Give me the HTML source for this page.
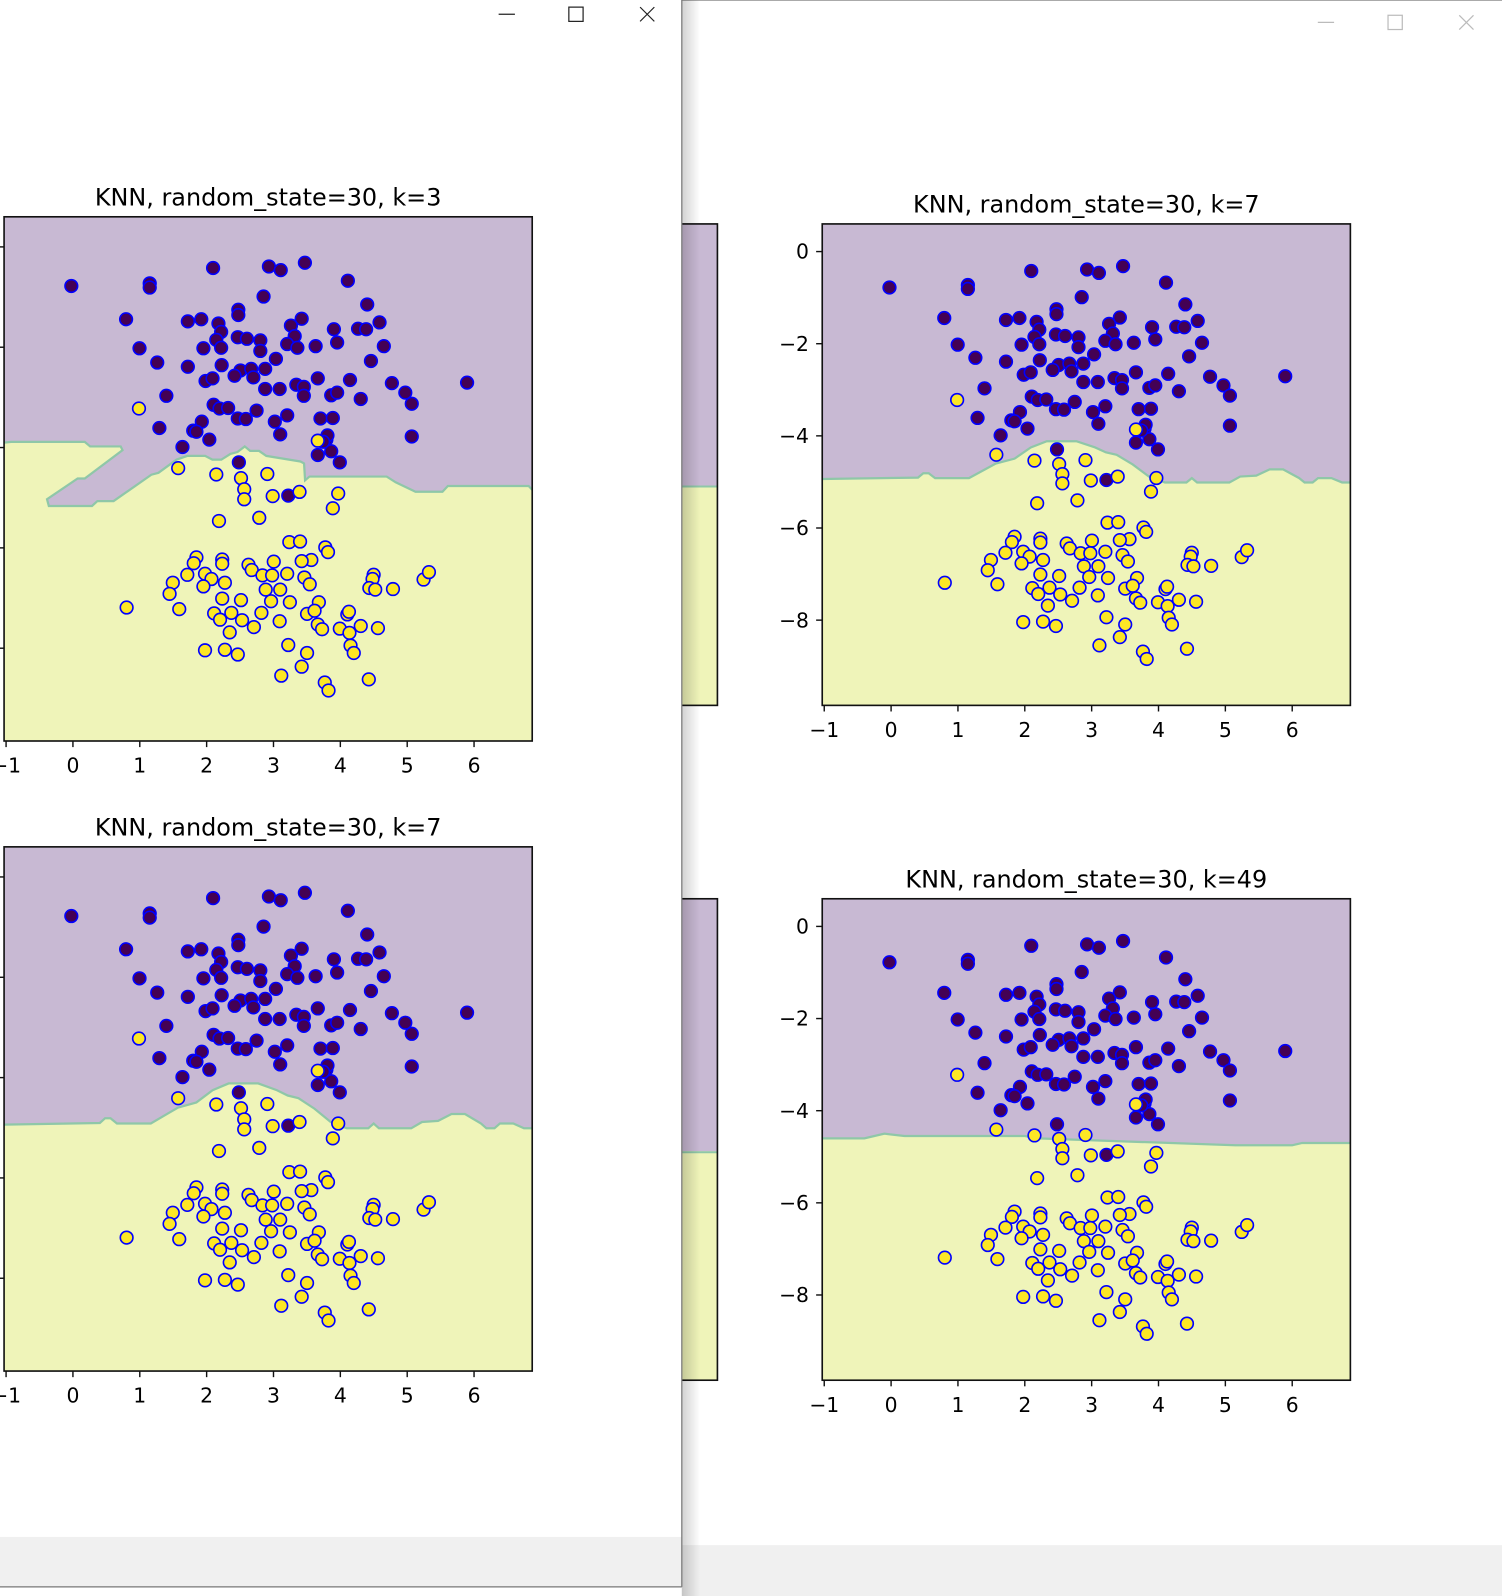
<!DOCTYPE html>
<html><head><meta charset="utf-8">
<style>
html,body{margin:0;padding:0;background:#fff;overflow:hidden}
svg{display:block}
text{font-family:"DejaVu Sans","Liberation Sans",sans-serif;fill:#000}
</style></head>
<body>
<svg id="s" width="1502" height="1596" viewBox="0 0 1476 1568" preserveAspectRatio="none" xmlns="http://www.w3.org/2000/svg"></svg>
<script>
var NS="http://www.w3.org/2000/svg";
var S=document.getElementById('s');
function el(t,a,p){var e=document.createElementNS(NS,t);for(var k in a)e.setAttribute(k,a[k]);(p||S).appendChild(e);return e;}
function tx(s,a,p){var e=el('text',a,p);e.textContent=s;return e;}
var XL=[-1.03,6.87],YL=[0.6,-9.85];
var PC="#c8b9d3",YC="#eff4b9";
var P=[[427,595],[691,561],[573,590],[573,598],[795,558],[817,565],[862,551],[942,585],[785,615],[978,630],[529,658],[644,662],[669,658],[701,666],[706,682],[738,640],[738,650],[856,657],[836,670],[843,690],[916,677],[961,676],[976,677],[1001,664],[554,713],[673,713],[697,697],[706,712],[737,692],[754,695],[779,698],[779,718],[829,705],[848,712],[882,709],[922,702],[1009,709],[587,740],[644,748],[707,745],[742,755],[731,765],[762,752],[788,752],[766,768],[808,733],[677,775],[690,770],[985,737],[946,773],[1024,779],[1049,797],[1061,818],[1164,778],[604,803],[788,790],[815,790],[846,782],[860,786],[886,770],[860,803],[911,802],[922,797],[966,809],[692,820],[703,827],[719,826],[772,831],[829,840],[891,846],[914,845],[737,846],[752,847],[806,852],[670,852],[591,864],[654,869],[660,871],[816,876],[684,886],[634,900],[1061,880],[886,915],[902,886],[904,878],[911,908],[927,929],[739,929],[831,992],[896,890]];
var Y=[[553,827],[626,940],[697,952],[743,959],[749,980],[749,999],[792,951],[802,993],[852,985],[924,988],[914,1016],[702,1040],[777,1034],[833,1080],[853,1079],[900,1090],[905,1099],[660,1109],[655,1120],[708,1113],[708,1121],[757,1123],[804,1117],[763,1133],[783,1143],[801,1143],[643,1142],[676,1140],[688,1150],[713,1157],[616,1157],[610,1178],[673,1164],[829,1140],[861,1147],[871,1160],[874,1114],[856,1116],[990,1142],[988,1150],[982,1167],[993,1170],[1026,1169],[1083,1151],[1093,1137],[530,1204],[628,1207],[708,1187],[743,1190],[789,1170],[816,1170],[799,1192],[834,1194],[888,1194],[693,1215],[725,1214],[781,1214],[815,1230],[704,1227],[745,1228],[767,1241],[722,1251],[866,1216],[886,1236],[894,1245],[941,1217],[944,1212],[927,1244],[945,1252],[966,1239],[998,1243],[676,1285],[713,1284],[737,1293],[831,1275],[866,1290],[947,1276],[953,1290],[818,1333],[856,1316],[899,1346],[906,1361],[981,1340],[880,1210],[886,888]];
function z1(p){return [(p[0]-430)/124.5,-(p[1]-521)/95];}
P=P.map(z1);Y=Y.map(z1);
var B7=[[303,990],[480,987],[490,978],[500,978],[512,988],[575,988],[605,970],[625,958],[660,948],[690,925],[720,912],[775,912],[810,925],[830,935],[850,940],[880,960],[910,985],[940,997],[980,997],[990,988],[1000,997],[1060,997],[1080,985],[1110,983],[1135,970],[1160,970],[1190,988],[1200,997],[1215,997],[1225,988],[1250,988],[1270,997],[1290,997]].map(z1);
B7[0][0]=XL[0];B7[B7.length-1][0]=XL[1];
function z2(p){return [(p[0]-202)/186,-(p[1]-171)/133];}
var B3=[[10,690],[30,688],[235,688],[250,700],[335,700],[340,710],[235,785],[215,785],[130,840],[135,858],[255,858],[270,845],[315,845],[420,775],[440,770],[490,735],[520,725],[570,725],[590,735],[615,735],[640,720],[660,715],[680,700],[695,712],[720,712],[740,725],[835,740],[845,745],[848,790],[860,780],[1075,780],[1100,795],[1155,820],[1230,820],[1245,805],[1470,805],[1495,815]].map(z2);
B3[0][0]=XL[0];B3[B3.length-1][0]=XL[1];
var B49=[[XL[0],-4.6],[-0.4,-4.6],[-0.1,-4.5],[0.2,-4.55],[2.0,-4.55],[2.2,-4.6],[5.15,-4.75],[6.0,-4.75],[6.15,-4.7],[XL[1],-4.7]];
var cid=0;
function plot(x0,y0,x1,y1,B,title,ylab,showPts){
  var sx=function(v){return x0+(v-XL[0])/(XL[1]-XL[0])*(x1-x0);};
  var sy=function(v){return y0+(v-YL[0])/(YL[1]-YL[0])*(y1-y0);};
  cid++;var cp=el('clipPath',{id:'c'+cid});el('rect',{x:x0,y:y0,width:x1-x0,height:y1-y0},cp);
  var g=el('g',{'clip-path':'url(#c'+cid+')'});
  el('rect',{x:x0,y:y0,width:x1-x0,height:y1-y0,fill:YC},g);
  var pts=[[x0,y0-5],[x1+5,y0-5]];
  for(var i=B.length-1;i>=0;i--){pts.push([sx(B[i][0]),sy(B[i][1])]);}
  el('polygon',{points:pts.map(function(p){return p[0].toFixed(1)+','+p[1].toFixed(1)}).join(' '),fill:PC},g);
  el('polyline',{points:B.map(function(p){return sx(p[0]).toFixed(1)+','+sy(p[1]).toFixed(1)}).join(' '),fill:'none',stroke:'#8fc7a8','stroke-width':2.2},g);
  if(showPts){
    P.forEach(function(p){el('circle',{cx:sx(p[0]),cy:sy(p[1]),r:6.2,fill:'#440154',stroke:'#0000ff','stroke-width':1.6},g);});
    Y.forEach(function(p){el('circle',{cx:sx(p[0]),cy:sy(p[1]),r:6.2,fill:'#fde725',stroke:'#0000ff','stroke-width':1.6},g);});
  }
  el('rect',{x:x0,y:y0,width:x1-x0,height:y1-y0,fill:'none',stroke:'#111','stroke-width':1.6});
  if(title){
    tx(title,{x:(x0+x1)/2,y:y0-11,'font-size':23.5,'text-anchor':'middle'});
    for(var t=-1;t<=6;t++){var X=sx(t);el('line',{x1:X,y1:y1,x2:X,y2:y1+6,stroke:'#111','stroke-width':1.4});
      tx(t<0?'\u22121':String(t),{x:X,y:y1+31,'font-size':20,'text-anchor':'middle'});}
    for(var v=0;v>=-8;v-=2){var Yv=sy(v);el('line',{x1:x0,y1:Yv,x2:x0-6,y2:Yv,stroke:'#111','stroke-width':1.4});
      if(ylab)tx(v<0?'\u2212'+(-v):'0',{x:x0-13,y:Yv+7,'font-size':20,'text-anchor':'end'});}
  }
}
el('rect',{x:670,y:0,width:806,height:1568,fill:'#fff'});
el('rect',{x:670,y:1518,width:806,height:50,fill:'#f0f0f0'});
el('line',{x1:670,y1:0.5,x2:1476,y2:0.5,stroke:'#aaa','stroke-width':1});
el('line',{x1:1295,y1:22,x2:1311,y2:22,stroke:'#bbb','stroke-width':1.2});
el('rect',{x:1364,y:15,width:14,height:14,fill:'none',stroke:'#bbb','stroke-width':1.2});
el('path',{d:'M1434 15 L1448 29 M1448 15 L1434 29',stroke:'#bbb','stroke-width':1.2});
(function(){
  el('rect',{x:600,y:220,width:105,height:473,fill:YC});
  el('rect',{x:600,y:220,width:105,height:257,fill:PC});
  el('line',{x1:600,y1:478,x2:705,y2:478,stroke:'#8fc7a8','stroke-width':2});
  el('rect',{x:600,y:220,width:105,height:473,fill:'none',stroke:'#111','stroke-width':1.6});
  el('rect',{x:600,y:883,width:105,height:473,fill:YC});
  el('rect',{x:600,y:883,width:105,height:248,fill:PC});
  el('line',{x1:600,y1:1132,x2:705,y2:1132,stroke:'#8fc7a8','stroke-width':2});
  el('rect',{x:600,y:883,width:105,height:473,fill:'none',stroke:'#111','stroke-width':1.6});
})();
plot(808,220,1327,693,B7,'KNN, random_state=30, k=7',true,true);
plot(808,883,1327,1356,B49,'KNN, random_state=30, k=49',true,true);
var gr=el('linearGradient',{id:'sh',x1:0,x2:1,y1:0,y2:0});
el('stop',{offset:0,'stop-color':'#000','stop-opacity':0.18},gr);el('stop',{offset:1,'stop-color':'#000','stop-opacity':0},gr);
el('rect',{x:670,y:0,width:18,height:1568,fill:'url(#sh)'});
el('rect',{x:0,y:0,width:670,height:1559,fill:'#fff'});
el('rect',{x:0,y:1510,width:670,height:49,fill:'#f0f0f0'});
el('line',{x1:670,y1:0,x2:670,y2:1559,stroke:'#777','stroke-width':1.2});
el('line',{x1:0,y1:1559,x2:670,y2:1559,stroke:'#777','stroke-width':1.2});
el('line',{x1:490,y1:14,x2:506,y2:14,stroke:'#222','stroke-width':1.2});
el('rect',{x:559,y:7,width:14,height:14,fill:'none',stroke:'#222','stroke-width':1.2});
el('path',{d:'M629 7 L643 21 M643 7 L629 21',stroke:'#222','stroke-width':1.2});
plot(4,213,523,728,B3,'KNN, random_state=30, k=3',false,true);
plot(4,832,523,1347,B7,'KNN, random_state=30, k=7',false,true);
</script>
</body></html>
